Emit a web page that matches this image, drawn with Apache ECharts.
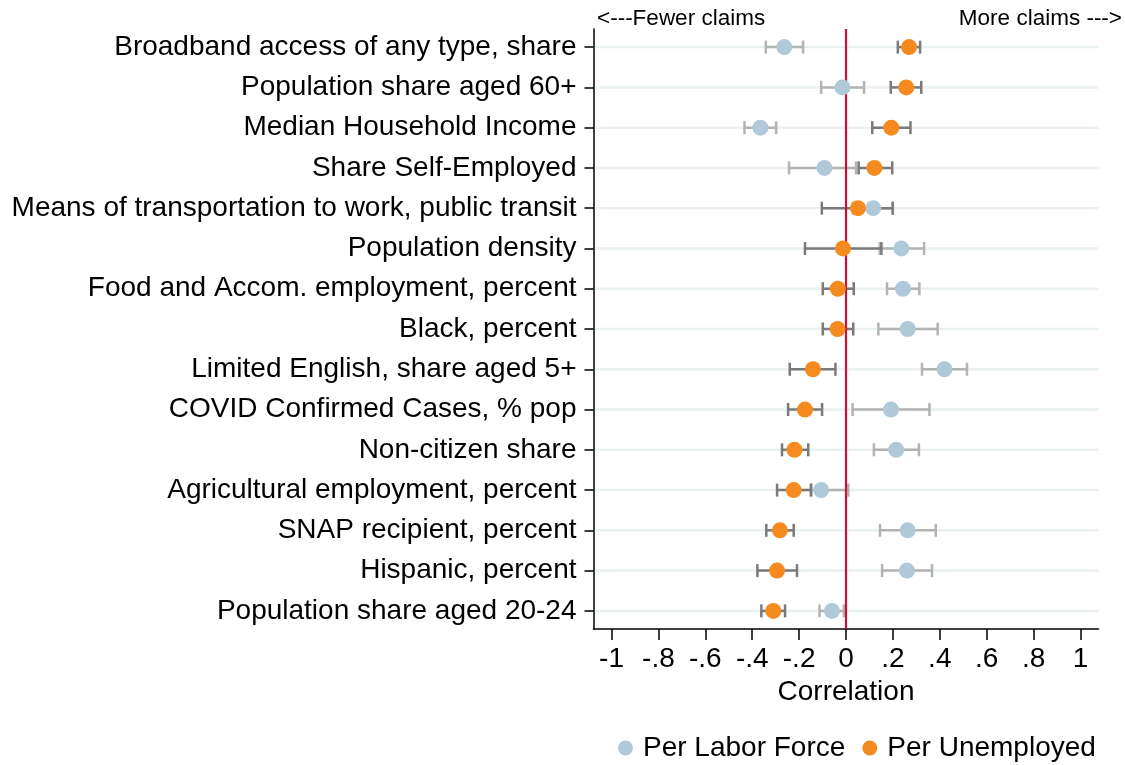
<!DOCTYPE html>
<html>
<head>
<meta charset="utf-8">
<script src="https://cdn.jsdelivr.net/npm/echarts@6/dist/echarts.min.js"></script>
<style>
  html, body { margin: 0; padding: 0; background: #ffffff; }
  #chart { width: 1125px; height: 765px; }
</style>
</head>
<body>
<div id="chart"></div>
<script>
// County characteristics, top to bottom
const categories = [
  'Broadband access of any type, share',
  'Population share aged 60+',
  'Median Household Income',
  'Share Self-Employed',
  'Means of transportation to work, public transit',
  'Population density',
  'Food and Accom. employment, percent',
  'Black, percent',
  'Limited English, share aged 5+',
  'COVID Confirmed Cases, % pop',
  'Non-citizen share',
  'Agricultural employment, percent',
  'SNAP recipient, percent',
  'Hispanic, percent',
  'Population share aged 20-24'
];

// Correlation of claims per labor force, with confidence bounds
const laborForce   = [-0.263, -0.015, -0.365, -0.092, 0.116, 0.236, 0.243, 0.263, 0.420, 0.192, 0.214, -0.106, 0.263, 0.260, -0.060];
const laborForceLo = [-0.342, -0.106, -0.433, -0.243, 0.030, 0.144, 0.175, 0.138, 0.324, 0.028, 0.119, -0.147, 0.145, 0.154, -0.113];
const laborForceHi = [-0.183,  0.077, -0.298,  0.043, 0.200, 0.333, 0.313, 0.391, 0.516, 0.356, 0.311,  0.010, 0.383, 0.367, -0.009];

// Correlation of claims per unemployed, with confidence bounds
const unemployed   = [0.269, 0.257, 0.193, 0.121,  0.051, -0.013, -0.035, -0.036, -0.141, -0.175, -0.220, -0.223, -0.282, -0.294, -0.310];
const unemployedLo = [0.221, 0.191, 0.112, 0.054, -0.103, -0.175, -0.099, -0.099, -0.240, -0.247, -0.273, -0.294, -0.340, -0.378, -0.361];
const unemployedHi = [0.316, 0.321, 0.275, 0.197,  0.199,  0.151,  0.033,  0.031, -0.045, -0.102, -0.161, -0.150, -0.223, -0.209, -0.260];

// Horizontal axis ticks and their printed labels
const xTicks      = [-1, -0.8, -0.6, -0.4, -0.2, 0, 0.2, 0.4, 0.6, 0.8, 1];
const xTickLabels = ['-1', '-.8', '-.6', '-.4', '-.2', '0', '.2', '.4', '.6', '.8', '1'];

// Reference line for zero correlation
const zeroLine = 0;

const FONT = "'Liberation Sans', Arial, Helvetica, sans-serif";
const BLUE = '#b0c9d9';
const ORANGE = '#f58a1f';
const rowIdx = categories.map((_, i) => i);

const ciData = (lo, hi) => rowIdx.map(i => [lo[i], hi[i], i]);
const pointData = vals => rowIdx.map(i => [vals[i], i]);

function ciRenderer(color) {
  return function (params, api) {
    const a = api.coord([api.value(0), api.value(2)]);
    const b = api.coord([api.value(1), api.value(2)]);
    const h = 6.5;
    const style = { stroke: color, lineWidth: 2.5 };
    return {
      type: 'group',
      children: [
        { type: 'line', shape: { x1: a[0], y1: a[1], x2: b[0], y2: b[1] }, style },
        { type: 'line', shape: { x1: a[0], y1: a[1] - h, x2: a[0], y2: a[1] + h }, style },
        { type: 'line', shape: { x1: b[0], y1: b[1] - h, x2: b[0], y2: b[1] + h }, style }
      ]
    };
  };
}

const chart = echarts.init(document.getElementById('chart'), null, { renderer: 'canvas' });

chart.setOption({
  animation: false,
  backgroundColor: '#ffffff',
  textStyle: { fontFamily: FONT, color: '#000' },
  grid: { left: 593.5, right: 26.5, top: 29, bottom: 136, containLabel: false },
  graphic: [
    { type: 'text', left: 597, top: 7, style: { text: '<---Fewer claims', font: '22.5px ' + FONT, fill: '#000' } },
    { type: 'text', right: 3, top: 7, style: { text: 'More claims --->', font: '22.5px ' + FONT, fill: '#000' } }
  ],
  legend: {
    data: ['Per Labor Force', 'Per Unemployed'],
    left: 613,
    top: 729,
    icon: 'circle',
    itemWidth: 15,
    itemHeight: 15,
    itemGap: 17,
    textStyle: { fontSize: 28, fontFamily: FONT, color: '#000', padding: [0, 0, 0, 5] }
  },
  xAxis: {
    type: 'value',
    min: -1.077,
    max: 1.077,
    name: 'Correlation',
    nameLocation: 'middle',
    nameGap: 44,
    nameTextStyle: { fontSize: 28, fontFamily: FONT, color: '#000' },
    axisLine: { show: true, onZero: false, lineStyle: { color: '#000', width: 1.5 } },
    axisTick: { show: true, length: 11, customValues: xTicks, lineStyle: { color: '#000', width: 1.5 } },
    axisLabel: {
      customValues: xTicks,
      fontSize: 28, fontFamily: FONT, color: '#000', margin: 16,
      formatter: v => {
        const k = xTicks.findIndex(t => Math.abs(t - v) < 1e-6);
        return k >= 0 ? xTickLabels[k] : '';
      }
    },
    splitLine: { show: false }
  },
  yAxis: {
    type: 'value',
    inverse: true,
    min: -0.45,
    max: 14.45,
    axisLine: { show: true, onZero: false, lineStyle: { color: '#000', width: 1.5 } },
    axisTick: { show: true, length: 9, customValues: rowIdx, lineStyle: { color: '#000', width: 1.5 } },
    axisLabel: {
      customValues: rowIdx,
      fontSize: 28, fontFamily: FONT, color: '#000', margin: 17,
      formatter: v => categories[Math.round(v)] || ''
    },
    splitLine: { show: false }
  },
  series: [
    {
      // faint row guides
      name: 'rows',
      type: 'custom',
      z: 0,
      silent: true,
      data: rowIdx.map(i => [0, i]),
      encode: { x: 0, y: 1 },
      renderItem: (params, api) => {
        const cs = params.coordSys;
        const y = api.coord([0, api.value(1)])[1];
        return { type: 'line', shape: { x1: cs.x, y1: y, x2: cs.x + cs.width, y2: y },
                 style: { stroke: '#e9f1f3', lineWidth: 2.5 } };
      }
    },
    {
      name: 'Per Labor Force CI',
      type: 'custom',
      z: 1,
      silent: true,
      data: ciData(laborForceLo, laborForceHi),
      encode: { x: [0, 1], y: 2 },
      renderItem: ciRenderer('#b3b3b3')
    },
    {
      name: 'Per Unemployed CI',
      type: 'custom',
      z: 2,
      silent: true,
      data: ciData(unemployedLo, unemployedHi),
      encode: { x: [0, 1], y: 2 },
      renderItem: ciRenderer('#7a7a7a')
    },
    {
      name: 'zero',
      type: 'custom',
      z: 3,
      silent: true,
      data: [[zeroLine, 0]],
      encode: { x: 0, y: 1 },
      renderItem: (params, api) => {
        const cs = params.coordSys;
        const x = api.coord([api.value(0), 0])[0];
        return { type: 'line', shape: { x1: x, y1: cs.y, x2: x, y2: cs.y + cs.height },
                 style: { stroke: '#c8103a', lineWidth: 2.2 } };
      }
    },
    {
      name: 'Per Labor Force',
      type: 'scatter',
      z: 4,
      symbol: 'circle',
      symbolSize: 16,
      itemStyle: { color: BLUE, opacity: 1 },
      data: pointData(laborForce)
    },
    {
      name: 'Per Unemployed',
      type: 'scatter',
      z: 5,
      symbol: 'circle',
      symbolSize: 16,
      itemStyle: { color: ORANGE, opacity: 1 },
      data: pointData(unemployed)
    }
  ]
});
</script>
</body>
</html>
